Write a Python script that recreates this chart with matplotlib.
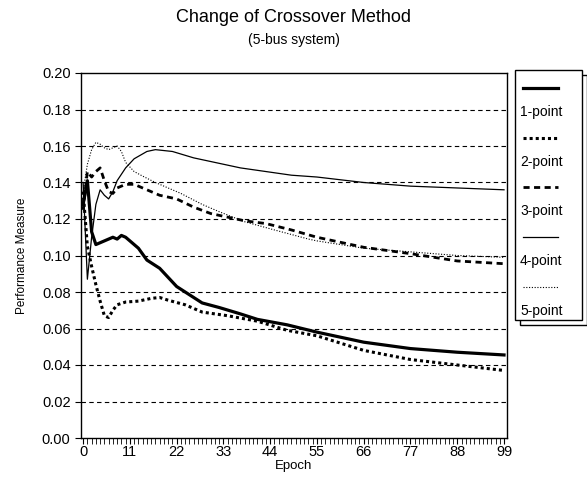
import matplotlib.pyplot as plt
from matplotlib.patches import Rectangle
from matplotlib.ticker import MultipleLocator

plt.rcParams['font.family'] = ['Liberation Sans', 'DejaVu Sans']

# (epoch, performance measure)
ep1 = [0, 1, 2, 3, 4, 5, 6, 7, 8, 9, 10, 11, 13, 15, 18, 20, 22, 24, 28, 32, 37, 41, 48, 55, 66, 77, 88, 99]
pm1 = [0.128, 0.141, 0.113, 0.106, 0.107, 0.108, 0.109, 0.110, 0.109, 0.111, 0.110, 0.108, 0.104, 0.0975,
       0.093, 0.088, 0.083, 0.080, 0.074, 0.0715, 0.068, 0.065, 0.062, 0.058, 0.0525, 0.049, 0.047, 0.0455]

ep2 = [0, 1, 2, 3, 4, 5, 6, 7, 8, 10, 13, 16, 18, 20, 24, 28, 34, 41, 48, 55, 66, 77, 88, 99]
pm2 = [0.135, 0.105, 0.094, 0.084, 0.075, 0.067, 0.066, 0.070, 0.073, 0.0745, 0.075, 0.0765, 0.077, 0.0755,
       0.073, 0.069, 0.067, 0.064, 0.059, 0.056, 0.048, 0.043, 0.040, 0.037]

ep3 = [0, 1, 2, 3, 4, 5, 6, 7, 8, 10, 12, 15, 18, 22, 26, 30, 34, 38, 43, 49, 55, 66, 77, 88, 99]
pm3 = [0.125, 0.146, 0.143, 0.146, 0.148, 0.141, 0.135, 0.134, 0.137, 0.139, 0.139, 0.136, 0.133, 0.131,
       0.1265, 0.123, 0.121, 0.119, 0.1175, 0.114, 0.110, 0.1045, 0.101, 0.097, 0.0955]

ep4 = [0, 1, 2, 3, 4, 5, 6, 7, 8, 10, 12, 15, 17, 21, 26, 31, 37, 43, 49, 55, 66, 77, 88, 99]
pm4 = [0.140, 0.087, 0.110, 0.128, 0.136, 0.133, 0.131, 0.135, 0.141, 0.148, 0.153, 0.157, 0.158, 0.157,
       0.1535, 0.151, 0.148, 0.146, 0.144, 0.143, 0.140, 0.138, 0.137, 0.136]

ep5 = [0, 1, 2, 3, 4, 5, 6, 7, 8, 9, 10, 12, 14, 17, 20, 23, 28, 32, 38, 45, 53, 55, 66, 77, 88, 99]
pm5 = [0.135, 0.150, 0.158, 0.162, 0.161, 0.159, 0.158, 0.159, 0.160, 0.157, 0.151, 0.146, 0.1435, 0.140,
       0.137, 0.134, 0.128, 0.124, 0.1185, 0.114, 0.109, 0.108, 0.104, 0.102, 0.100, 0.099]

labels = ['1-point', '2-point', '3-point', '4-point', '5-point']
xticks = [0, 11, 22, 33, 44, 55, 66, 77, 88, 99]

styles = [
    dict(color='black', lw=2.3, ls='-'),
    dict(color='black', lw=2.2, ls=(0, (1, 1))),
    dict(color='black', lw=2.0, ls=(0, (2.2, 1.6))),
    dict(color='black', lw=0.9, ls='-'),
    dict(color='black', lw=0.8, ls=(0, (1, 1.5))),
]

fig = plt.figure(figsize=(5.87, 4.82), dpi=100)
ax = fig.add_axes([81 / 587, 44 / 482, 426 / 587, 365 / 482])

series = [(ep1, pm1), (ep2, pm2), (ep3, pm3), (ep4, pm4), (ep5, pm5)]
for (x, y), st in zip(series, styles):
    ax.plot(x, y, **st)

ax.set_xlim(-0.5, 99.7)
ax.set_ylim(0, 0.2)
ax.set_yticks([i * 0.02 for i in range(11)])
ax.set_yticklabels([f'{i * 0.02:.2f}' for i in range(11)])
ax.set_xticks(xticks)
ax.xaxis.set_minor_locator(MultipleLocator(1))
ax.tick_params(axis='both', which='major', labelsize=10.5, length=4, width=0.8, color='black')
ax.tick_params(axis='x', which='minor', length=4, width=0.6)
ax.tick_params(axis='x', pad=1)
for y in [i * 0.02 for i in range(1, 10)]:
    ax.axhline(y, color='black', lw=0.8, ls=(0, (4, 3)), zorder=0)
for s in ax.spines.values():
    s.set_linewidth(1.0)

ax.set_xlabel('Epoch', fontsize=9.5, labelpad=1)
ax.set_ylabel('Performance Measure', fontsize=8.5, labelpad=10)

fig.text(294 / 587, 1 - 18 / 482, 'Change of Crossover Method', ha='center', va='center', fontsize=13)
fig.text(294 / 587, 1 - 40 / 482, '(5-bus system)', ha='center', va='center', fontsize=10)

# legend box with shadow, handle above each label
lx, ly, lw_, lh = 515 / 587, 162 / 482, 67 / 587, 250 / 482
lax = fig.add_axes([lx, ly, lw_, lh])
lax.set_xlim(0, 67)
lax.set_ylim(250, 0)
lax.axis('off')
lax.add_patch(Rectangle((5, 5), 67, 250, facecolor='white', edgecolor='black', lw=1.0,
                        clip_on=False, zorder=0))
lax.add_patch(Rectangle((0, 0), 67, 250, facecolor='white', edgecolor='black', lw=1.0,
                        clip_on=False, zorder=1))
for i, (lab, st) in enumerate(zip(labels, styles)):
    yh = 18 + i * 49.75
    lax.plot([8, 43], [yh, yh], zorder=2, **st)
    lax.text(5, yh + 24, lab, ha='left', va='center', fontsize=10, zorder=2)

fig.savefig('out.png', dpi=100)
